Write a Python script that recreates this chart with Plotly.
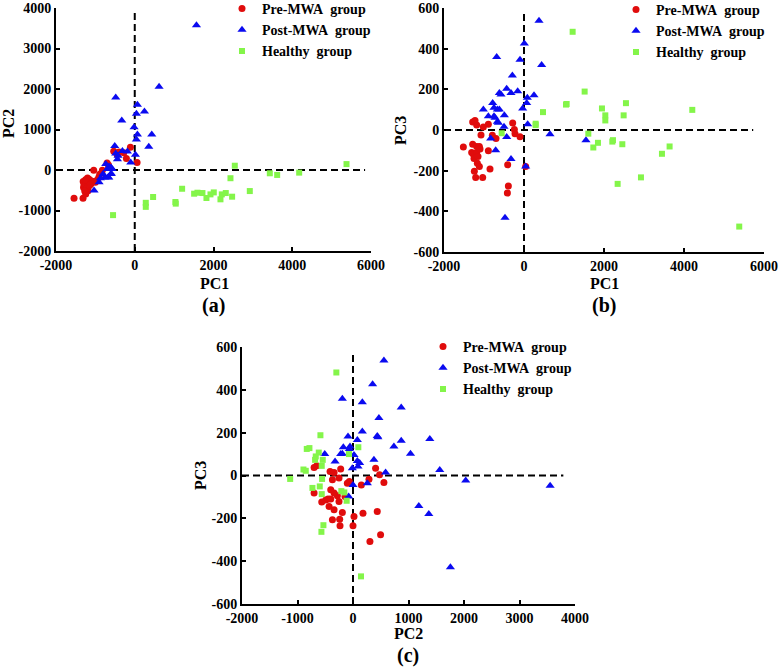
import plotly.graph_objects as go

# ---------------- data ----------------
GROUPS = ["Pre-MWA\u00a0 group", "Post-MWA\u00a0 group", "Healthy\u00a0 group"]

# Panel (a): PC1 vs PC2
A_PRE_X = [-1542, -1313, -1245, -1186, -1300, -1290, -1310, -1240, -1200, -1160, -1130, -1100, -1220, -1180,
           -1270, -1150, -1080, -1200, -1250, -1120, -1042, -915, -890, -822, -703, -669, -534, -449, -398,
           -280, -212, -110, 59, -1000, -960]
A_PRE_Y = [-699, -699, -593, -512, -430, -366, -285, -350, -300, -230, -260, -320, -450, -400, -520, -380,
           -280, -200, -240, -350, -8, -187, -106, -8, 171, 122, 463, 382, 447, 423, 285, 561, 187, -300, -250]
A_POST_X = [1567, 618, -483, 68, 246, 42, -330, -17, 68, 432, 42, 356, -508, -483, -313, -186, -423, -440,
            -102, 17, -652, -695, -576, -610, -678, -805, -906, -1033, -737, -593, -660, -762, -872, -600]
A_POST_Y = [3577, 2057, 1789, 1610, 1447, 1390, 1220, 1057, 878, 878, 756, 577, 593, 407, 472, 455, 350, 268,
            187, 374, 89, 24, 24, -98, -179, -98, -301, -504, 146, -90, -187, -187, -203, 60]
A_HEALTHY_X = [-551, 280, 280, 466, 1033, 1041, 1203, 1508, 1592, 1719, 1821, 1923, 2007, 2177, 2211, 2312,
               2473, 2431, 2541, 2922, 3430, 3617, 4176, 5378]
A_HEALTHY_Y = [-1114, -810, -910, -667, -790, -830, -463, -585, -561, -569, -691, -602, -553, -724, -602, -569,
               -659, -203, 106, -520, -81, -122, -65, 146]

# Panel (b): PC1 vs PC3
B_PRE_X = [-1516, -1283, -1225, -1183, -1283, -1308, -1266, -1183, -1116, -1183, -1100, -1166, -1116, -1241,
           -1208, -1033, -1075, -1016, -891, -891, -850, -700, -791, -408, -391, -416, -283, -241, -225, -100,
           42, -1250, -1150]
B_PRE_Y = [-83, 39, 47, 24, -70, -111, -119, -81, -81, -111, -94, -164, -179, -203, -233, -233, -24, 15, 28,
           -102, -192, -42, -26, -171, -276, -310, 34, 3, -18, -33, -179, -140, -130]
B_POST_X = [375, 8, -683, -100, 441, -291, -433, -616, -575, -325, -158, 250, 83, 67, -33, -783, -750, -666,
            -616, -1016, -891, -750, -725, -666, -491, -641, -500, 92, -833, -433, -708, -325, 42, -475, 650, 1549]
B_POST_Y = [537, 426, 359, 345, 320, 268, 203, 182, 174, 182, 190, 171, 158, 133, 106, 133, 109, 101, 101, 101,
            68, 68, 60, 41, 73, 36, 16, 28, -42, -34, -99, -143, -179, -431, -21, -50]
B_HEALTHY_X = [-558, 292, 292, 475, 1050, 1066, 1216, 1516, 1608, 1733, 1849, 1949, 2033, 2033, 2208, 2224,
               2341, 2458, 2491, 2549, 2924, 3449, 3640, 4207, 5381]
B_HEALTHY_Y = [-16, 24, 31, 88, 125, 128, 483, 189, -18, -86, -63, 106, 72, 47, -57, -50, -265, -70, 72, 132,
               -233, -117, -81, 99, -475]

# Panel (c): PC2 vs PC3
C_PRE_X = [-701, -653, -701, -563, -491, -449, -401, -431, -341, -371, -240, -234, -192, -282, -252, -341, -401,
           -371, -413, -341, -252, -222, -102, -66, -144, 0, 18, 150, 180, 288, 305, 407, 437, 479, 497, 557]
C_PRE_Y = [37, 45, -82, -124, -114, -110, -110, -145, -160, -207, -204, -235, -173, -95, -121, -82, -67, -20, 19,
           14, -12, 30, -36, -28, -98, -235, -191, -44, -176, -17, -308, 34, -168, 3, -277, -33]
C_POST_X = [557, 353, -192, 168, 869, 467, 168, 437, 449, -90, 78, 869, 1384, 737, -174, -54, -66, -192, -222,
            1036, -509, -323, 18, 78, 120, 90, 377, -12, 587, 1563, 2031, 3552, 0, 258, -78, 1186, 1366, 1755]
C_POST_Y = [537, 426, 358, 342, 317, 268, 205, 185, 179, 182, 166, 162, 170, 135, 132, 135, 124, 101, 100, 101,
            100, 65, 96, 68, 58, 42, 73, 34, 14, 26, -23, -48, -44, -36, -98, -142, -180, -428]
C_HEALTHY_X = [-1132, -893, -851, -833, -785, -683, -671, -617, -587, -563, -545, -731, -599, -563, -557, -533,
               -569, -300, -210, -156, -114, -72, 96, 144]
C_HEALTHY_Y = [-16, 28, 22, 124, 128, 73, 89, 107, 188, 45, 73, -58, -51, -87, -16, -232, -263, 481, -73, -79,
               -118, 100, 132, -471]

# ticks
A_XTICKS = [-2000, 0, 2000, 4000, 6000]
A_YTICKS = [-2000, -1000, 0, 1000, 2000, 3000, 4000]
B_XTICKS = [-2000, 0, 2000, 4000, 6000]
B_YTICKS = [-600, -400, -200, 0, 200, 400, 600]
C_XTICKS = [-2000, -1000, 0, 1000, 2000, 3000, 4000]
C_YTICKS = [-600, -400, -200, 0, 200, 400, 600]

# dashed reference lines at zero: (horizontal end x, vertical top y)
A_ZERO_EXT = (5850, 3900)
B_ZERO_EXT = (5730, 590)
C_ZERO_EXT = (3790, 580)

# ---------------- style ----------------
FONT = "'Liberation Serif', 'Times New Roman', serif"
COLORS = ["#e00c0c", "#0a0af0", "#84f54a"]
SYMBOLS = ["circle", "triangle-up", "square"]
SIZES = [7, 8, 6]

W, H = 779, 670

fig = go.Figure()

panels = [
    ("x", "y", "legend", [(A_PRE_X, A_PRE_Y), (A_POST_X, A_POST_Y), (A_HEALTHY_X, A_HEALTHY_Y)]),
    ("x2", "y2", "legend2", [(B_PRE_X, B_PRE_Y), (B_POST_X, B_POST_Y), (B_HEALTHY_X, B_HEALTHY_Y)]),
    ("x3", "y3", "legend3", [(C_PRE_X, C_PRE_Y), (C_POST_X, C_POST_Y), (C_HEALTHY_X, C_HEALTHY_Y)]),
]

for xa, ya, lg, series in panels:
    for i, (xs, ys) in enumerate(series):
        fig.add_trace(go.Scatter(
            x=xs, y=ys, mode="markers", name=GROUPS[i], xaxis=xa, yaxis=ya, legend=lg,
            marker=dict(symbol=SYMBOLS[i], size=SIZES[i], color=COLORS[i], line=dict(width=0)),
        ))

def px_x(p):
    return p / W

def px_y(p):
    return 1 - p / H

axis_common = dict(
    showgrid=False, zeroline=False, showline=True, linecolor="black", linewidth=2,
    ticks="inside", ticklen=4, tickwidth=2, tickcolor="black", mirror=False, automargin=False,
    ticklabeloverflow="allow",
    tickfont=dict(family=FONT, size=14, color="black", weight="bold"),
)

def ticks(vals):
    return dict(tickmode="array", tickvals=vals, ticktext=[str(v) for v in vals])

fig.update_layout(
    xaxis=dict(domain=[px_x(56), px_x(371)], range=[A_XTICKS[0], A_XTICKS[-1]], anchor="y",
               **ticks(A_XTICKS), **axis_common),
    yaxis=dict(domain=[px_y(251), px_y(8)], range=[A_YTICKS[0], A_YTICKS[-1]], anchor="x",
               **ticks(A_YTICKS), **axis_common),
    xaxis2=dict(domain=[px_x(444), px_x(764)], range=[B_XTICKS[0], B_XTICKS[-1]], anchor="y2",
                **ticks(B_XTICKS), **axis_common),
    yaxis2=dict(domain=[px_y(252), px_y(8)], range=[B_YTICKS[0], B_YTICKS[-1]], anchor="x2",
                **ticks(B_YTICKS), **axis_common),
    xaxis3=dict(domain=[px_x(242), px_x(575)], range=[C_XTICKS[0], C_XTICKS[-1]], anchor="y3",
                **ticks(C_XTICKS), **axis_common),
    yaxis3=dict(domain=[px_y(604), px_y(347)], range=[C_YTICKS[0], C_YTICKS[-1]], anchor="x3",
                **ticks(C_YTICKS), **axis_common),
)

# dashed zero lines
shapes = []
for (xa, ya, xt, yt, ext) in [("x", "y", A_XTICKS, A_YTICKS, A_ZERO_EXT),
                              ("x2", "y2", B_XTICKS, B_YTICKS, B_ZERO_EXT),
                              ("x3", "y3", C_XTICKS, C_YTICKS, C_ZERO_EXT)]:
    ln = dict(color="black", width=2, dash="7px,4px")
    shapes.append(dict(type="line", xref=xa, yref=ya, x0=xt[0], x1=ext[0], y0=0, y1=0, line=ln, layer="below"))
    shapes.append(dict(type="line", xref=xa, yref=ya, x0=0, x1=0, y0=yt[0], y1=ext[1], line=ln, layer="below"))
fig.update_layout(shapes=shapes)

# titles / labels
ann = []
def label(text, x, y, size=16, angle=0):
    ann.append(dict(text=text, x=px_x(x), y=px_y(y), xref="paper", yref="paper", showarrow=False,
                    xanchor="center", yanchor="middle", textangle=angle,
                    font=dict(family=FONT, size=size, color="black", weight="bold")))

label("PC2", 8, 124, angle=-90)
label("PC1", 215, 283)
label("(a)", 213, 305, size=20)
label("PC3", 401, 131, angle=-90)
label("PC1", 604, 283)
label("(b)", 604, 305, size=20)
label("PC3", 200, 476, angle=-90)
label("PC2", 408, 633)
label("(c)", 408, 655, size=20)
fig.update_layout(annotations=ann)

leg_common = dict(bgcolor="rgba(0,0,0,0)", borderwidth=0, xanchor="left", yanchor="top",
                  font=dict(family=FONT, size=14, color="black", weight="bold"))
fig.update_layout(
    legend=dict(x=px_x(222), y=px_y(-7), **leg_common),
    legend2=dict(x=px_x(616), y=px_y(-6), **leg_common),
    legend3=dict(x=px_x(423), y=px_y(331), **leg_common),
)

fig.update_layout(
    width=W, height=H, margin=dict(l=0, r=0, t=0, b=0, autoexpand=False),
    paper_bgcolor="white", plot_bgcolor="white", showlegend=True,
    font=dict(family=FONT, color="black"),
)

fig.write_html("out.html", config={"displayModeBar": False},
               post_script="document.body.style.margin='0px';document.body.style.padding='0px';")
